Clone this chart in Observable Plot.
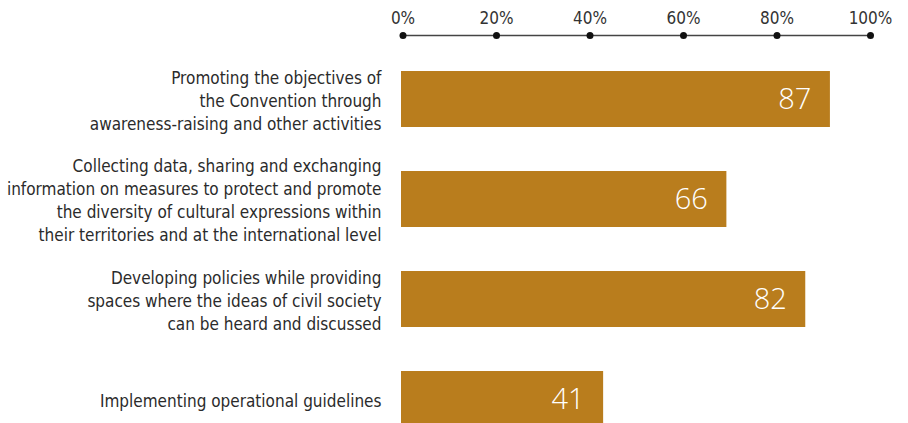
<!DOCTYPE html>
<html>
<head>
<meta charset="utf-8">
<script src="https://cdn.jsdelivr.net/npm/d3@7"></script>
<script src="https://cdn.jsdelivr.net/npm/@observablehq/plot@0.6"></script>
<style>
  html, body { margin: 0; padding: 0; background: #fff; overflow: hidden; }
  #chart svg { display: block; }
</style>
</head>
<body>
<div id="chart"></div>
<script>
const categories = [
  "Promoting the objectives of\nthe Convention through\nawareness-raising and other activities",
  "Collecting data, sharing and exchanging\ninformation on measures to protect and promote\nthe diversity of cultural expressions within\ntheir territories and at the international level",
  "Developing policies while providing\nspaces where the ideas of civil society\ncan be heard and discussed",
  "Implementing operational guidelines"
];
const values = [87, 66, 82, 41];
const tickValues = [0, 20, 40, 60, 80, 100];
const tickLabels = ["0%", "20%", "40%", "60%", "80%", "100%"];

const data = categories.map((c, i) => ({category: c, value: values[i]}));
const ticks = tickValues.map((v, i) => ({v, label: tickLabels[i]}));

const FONT = "'DejaVu Sans Condensed', 'Liberation Sans Narrow', sans-serif";
const BAR = "#b97d1d";

const axisPlot = Plot.plot({
  width: 908,
  height: 45,
  marginLeft: 402.5,
  marginRight: 38,
  marginTop: 0,
  marginBottom: 0,
  style: {fontFamily: FONT, background: "transparent", overflow: "visible"},
  x: {domain: [0, 100], axis: null},
  y: {domain: [0, 1], range: [35, 35], axis: null},
  marks: [
    Plot.ruleY([0], {x1: 0, x2: 100, stroke: "#444", strokeWidth: 1.5}),
    Plot.dot(ticks, {x: "v", y: () => 0, r: 3.5, fill: "#111", stroke: null}),
    Plot.text(ticks, {x: "v", y: () => 0, dy: -17, text: "label", fontSize: 17, fill: "#333"})
  ]
});

const barPlot = Plot.plot({
  width: 908,
  height: 378,
  marginLeft: 401,
  marginRight: 14,
  marginTop: 0,
  marginBottom: 0,
  style: {fontFamily: FONT, background: "transparent", overflow: "visible"},
  x: {domain: [0, 100], axis: null},
  y: {domain: categories, range: [4, 404], paddingInner: 0.44, paddingOuter: 0.22, axis: null},
  marks: [
    Plot.barX(data, {x: "value", y: "category", fill: BAR}),
    Plot.text(data, {x: "value", y: "category", text: d => String(d.value), textAnchor: "end", dx: -19,
      fill: "#fff", fontSize: 29, fontFamily: "'Open Sans', sans-serif", fontWeight: 300}),
    Plot.text(data, {x: 0, y: "category", text: "category", textAnchor: "end", dx: -20,
      fontSize: 17, lineHeight: 1.35, fill: "#2b2b2b"})
  ]
});

const chart = document.getElementById("chart");
chart.appendChild(axisPlot);
chart.appendChild(barPlot);
</script>
</body>
</html>
